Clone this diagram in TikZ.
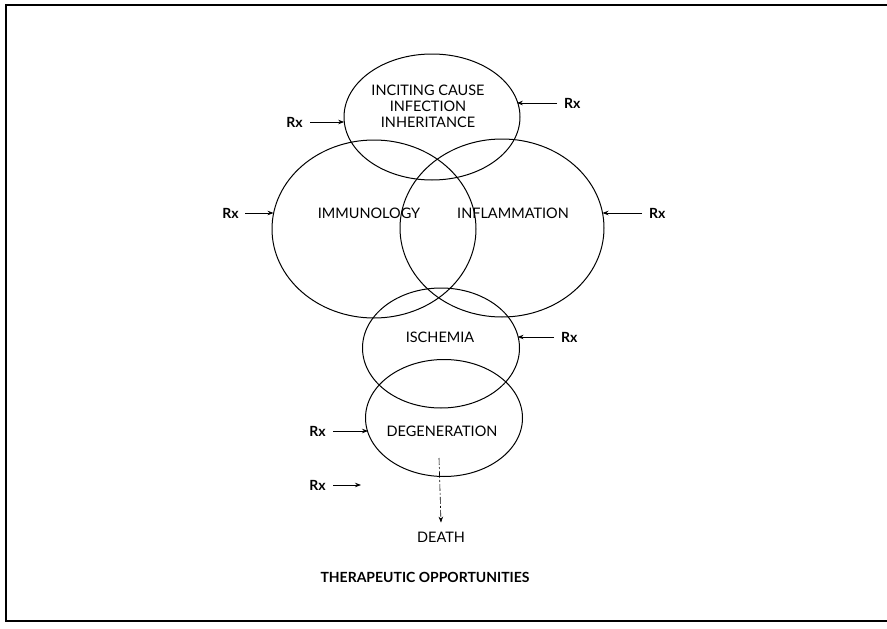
\documentclass[tikz,border=0pt]{standalone}
\usepackage{fontspec}
\setmainfont{Lato}
\usetikzlibrary{shapes.geometric,arrows.meta}
\begin{document}
\begin{tikzpicture}[x=1pt,y=-1pt,
  ell/.style={draw, ellipse, inner sep=0pt, line width=1pt},
  lbl/.style={font=\fontsize{14.5}{16}\selectfont, inner sep=0pt, align=center},
  rx/.style={font=\fontsize{14}{16}\selectfont\bfseries, inner sep=1pt},
  arr/.style={-{Stealth[length=6pt,width=4.5pt]}, line width=0.8pt}]
\useasboundingbox (0,0) rectangle (887,629);
% frame
\draw[line width=1.2pt] (887,5) -- (6,5) -- (6,621) -- (887,621);
% circles
\node[ell, minimum width=176, minimum height=126] (inc) at (432,117) {};
\node[ell, minimum width=204, minimum height=178] (imm) at (374,229) {};
\node[ell, minimum width=204, minimum height=178] (inf) at (502,228) {};
\node[ell, minimum width=157, minimum height=120] (isc) at (441,348) {};
\node[ell, minimum width=157, minimum height=117] (deg) at (444,418) {};
% labels
\node[lbl] (tinc) at (428,106) {INCITING CAUSE\\INFECTION\\INHERITANCE};
\node[lbl] (timm) at (369,213) {IMMUNOLOGY};
\node[lbl] (tinf) at (513,213) {INFLAMMATION};
\node[lbl] (tisc) at (440,337) {ISCHEMIA};
\node[lbl] (tdeg) at (442,431) {DEGENERATION};
\node[lbl] (death) at (441,537) {DEATH};
\node[font=\fontsize{14}{16}\selectfont\bfseries, inner sep=0pt] (title) at (425,577) {THERAPEUTIC OPPORTUNITIES};
% Rx labels
\node[rx, anchor=east] (r1) at (304,122) {Rx};
\node[rx, anchor=west] (r2) at (563,103) {Rx};
\node[rx, anchor=east] (r3) at (240,213) {Rx};
\node[rx, anchor=west] (r4) at (648,213) {Rx};
\node[rx, anchor=west] (r5) at (560,337) {Rx};
\node[rx, anchor=east] (r6) at (327,431) {Rx};
\node[rx, anchor=east] (r7) at (327,485) {Rx};
\coordinate (e7) at (361,485);
\coordinate (dtop) at (439,458);
% arrows
\draw[arr] ([xshift=6pt]r1.east) -- (r1.east -| inc.185);
\draw[arr] ([xshift=-6pt]r2.west) -- (r2.west -| inc.12);
\draw[arr] ([xshift=5pt]r3.east) -- (r3.east -| imm.170);
\draw[arr] ([xshift=-6pt]r4.west) -- (r4.west -| inf.10);
\draw[arr] ([xshift=-6pt]r5.west) -- (r5.west -| isc.11);
\draw[arr] ([xshift=6pt]r6.east) -- (r6.east -| deg.192);
\draw[arr] ([xshift=6pt]r7.east) -- (e7);
\draw[arr, line width=0.6pt, dash pattern=on 7pt off 2pt on 2pt off 2pt] (dtop) -- ([yshift=9pt]death.north);
\end{tikzpicture}
\end{document}
